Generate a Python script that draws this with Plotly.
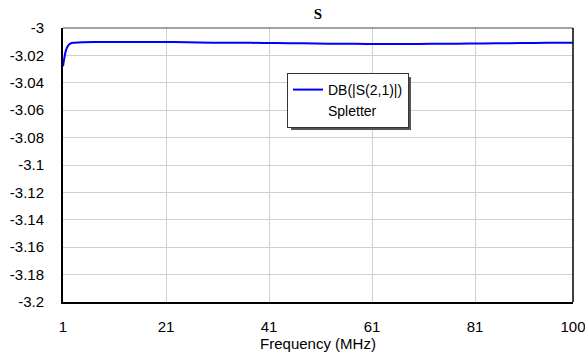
import plotly.graph_objects as go

freq = [1, 1.3, 1.6, 2, 2.5, 3, 4, 5, 7, 10, 15, 20, 25, 30, 35, 40, 45, 50, 55, 60, 65, 70, 75, 80, 85, 90, 95, 100]
s21_db = [-3.028, -3.021, -3.016, -3.0128, -3.0113, -3.0108, -3.0105, -3.0104, -3.0103, -3.0102, -3.0102, -3.0102,
          -3.0104, -3.0107, -3.0108, -3.0109, -3.0111, -3.0113, -3.0115, -3.0116, -3.0116, -3.0116, -3.0115, -3.0114,
          -3.0112, -3.0110, -3.0108, -3.0107]
xticks = [1, 21, 41, 61, 81, 100]
yticks = [-3, -3.02, -3.04, -3.06, -3.08, -3.1, -3.12, -3.14, -3.16, -3.18, -3.2]
series_name = "DB(|S(2,1)|)"
circuit_name = "Spletter"

L, R, T, B = 63, 12, 28, 52
W, H = 585, 354
pw, ph = W - L - R, H - T - B
FS = 15

fig = go.Figure()
fig.add_trace(go.Scatter(x=freq, y=s21_db, mode="lines", name=series_name,
                         line=dict(color="#0000ff", width=2), line_shape="spline"))
fig.add_trace(go.Scatter(x=[None], y=[None], mode="lines", name=circuit_name,
                         line=dict(color="rgba(0,0,0,0)", width=0), hoverinfo="skip"))

# legend shadow
lx0, ly0, lx1, ly1 = 287, 73, 407, 126
def px2paper_x(p): return (p - L) / pw
def px2paper_y(p): return (H - B - p) / ph
fig.add_shape(type="rect", xref="paper", yref="paper",
              x0=px2paper_x(lx0 + 4), x1=px2paper_x(lx1 + 4),
              y0=px2paper_y(ly1 + 4), y1=px2paper_y(ly0 + 4),
              fillcolor="#555555", line=dict(width=0), layer="above")

fig.update_layout(
    width=W, height=H,
    margin=dict(l=L, r=R, t=T, b=B),
    paper_bgcolor="white", plot_bgcolor="white",
    font=dict(family="Liberation Sans, Arial", size=FS, color="black"),
    title=dict(text="<b>S</b>", x=(L + pw / 2) / W, xanchor="center", y=1 - 14 / H, yanchor="middle",
               font=dict(family="Liberation Serif, Times New Roman", size=15, color="black")),
    showlegend=True,
    legend=dict(x=px2paper_x(lx0), y=px2paper_y(ly0), xanchor="left", yanchor="top",
                bgcolor="white", bordercolor="#333333", borderwidth=1,
                font=dict(family="Liberation Sans, Arial", size=14, color="black"),
                itemwidth=30, tracegroupgap=0),
    xaxis=dict(range=[1, 100], tickvals=xticks, ticktext=[str(v) for v in xticks],
               showgrid=True, gridcolor="#d0d0d0", gridwidth=1, zeroline=False,
               showline=True, linecolor="black", linewidth=2, mirror=False, automargin=False,
               ticks="", ticklen=0, ticklabelstandoff=10, ticklabeloverflow="allow",
               title=dict(text="Frequency (MHz)", standoff=0, font=dict(size=FS))),
    yaxis=dict(range=[-3.2, -3], tickvals=yticks, ticktext=[f"{v:g}" for v in yticks],
               showgrid=True, gridcolor="#d0d0d0", gridwidth=1, zeroline=False, automargin=False,
               showline=True, linecolor="black", linewidth=2, ticks="", ticklen=0,
               ticklabelstandoff=14, ticklabeloverflow="allow"),
)
# top and right thin borders
fig.add_shape(type="line", xref="paper", yref="paper", x0=0, x1=1, y0=1, y1=1,
              line=dict(color="#444444", width=1))
fig.add_shape(type="line", xref="paper", yref="paper", x0=1, x1=1, y0=0, y1=1,
              line=dict(color="black", width=1.5))

fig.write_html("out.html")
